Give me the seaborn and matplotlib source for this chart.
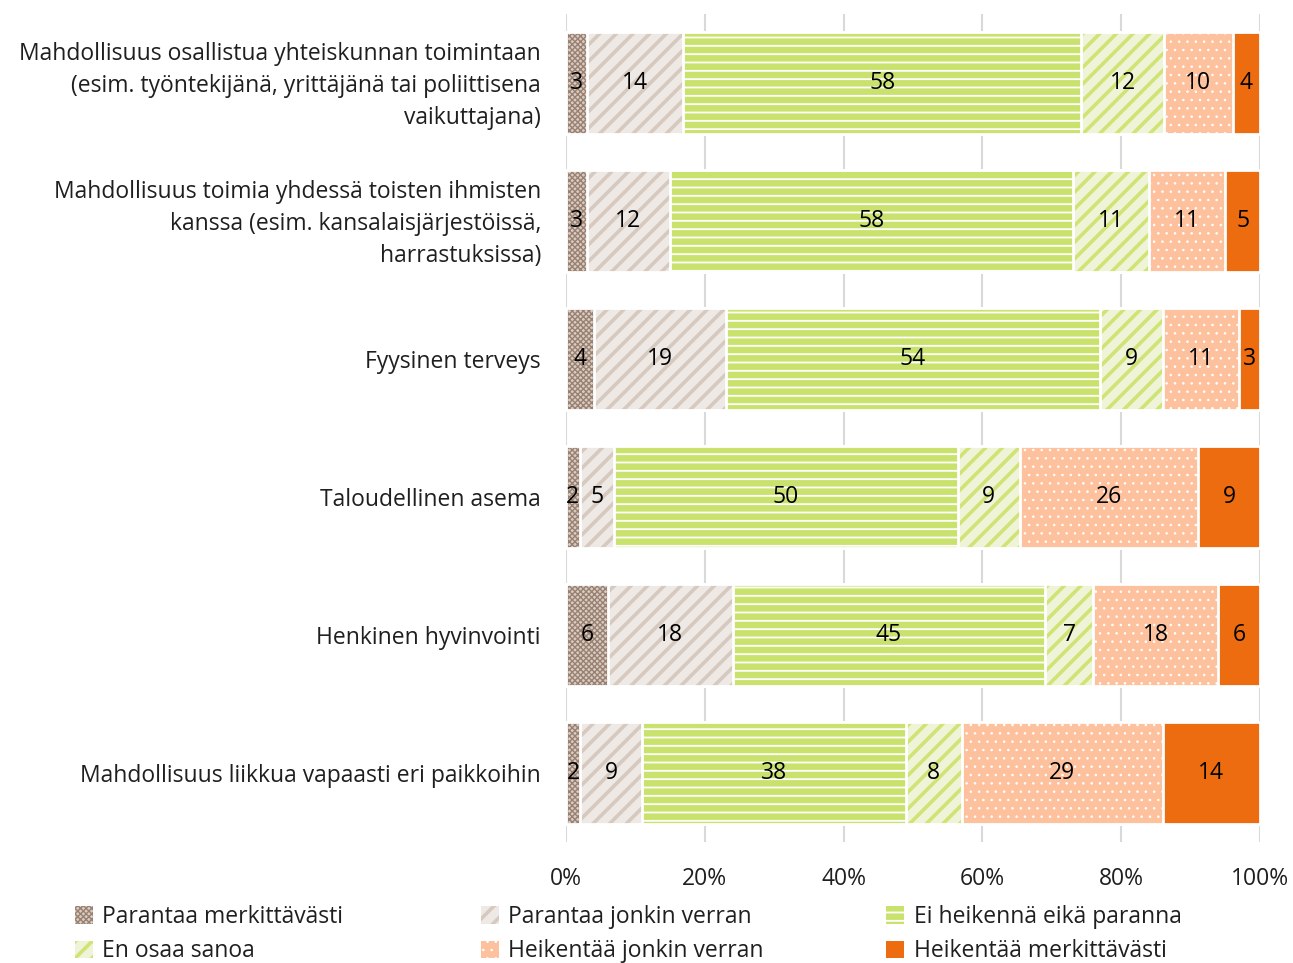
import matplotlib
matplotlib.use('Agg')
import matplotlib.pyplot as plt
import matplotlib.patches as mpatches
import matplotlib.transforms as mtransforms
from matplotlib.colors import to_rgba
import numpy as np
import pandas as pd
import seaborn as sns

# Data {{{
categories = [
    'Mahdollisuus osallistua yhteiskunnan toimintaan\n(esim. työntekijänä, yrittäjänä tai poliittisena\nvaikuttajana)',
    'Mahdollisuus toimia yhdessä toisten ihmisten\nkanssa (esim. kansalaisjärjestöissä,\nharrastuksissa)',
    'Fyysinen terveys',
    'Taloudellinen asema',
    'Henkinen hyvinvointi',
    'Mahdollisuus liikkua vapaasti eri paikkoihin',
]
series = ['Parantaa merkittävästi', 'Parantaa jonkin verran',
          'Ei heikennä eikä paranna', 'En osaa sanoa',
          'Heikentää jonkin verran', 'Heikentää merkittävästi']

parantaa_merkittavasti = [3, 3, 4, 2, 6, 2]
parantaa_jonkin = [14, 12, 19, 5, 18, 9]
ei_heikenna = [58, 58, 54, 50, 45, 38]
en_osaa = [12, 11, 9, 9, 7, 8]
heikentaa_jonkin = [10, 11, 11, 26, 18, 29]
heikentaa_merkittavasti = [4, 5, 3, 9, 6, 14]

xticks = [0, 20, 40, 60, 80, 100]
xticklabels = ['0%', '20%', '40%', '60%', '80%', '100%']
# }}}

# Styles: face, hatch, hatch colour, hatch width
styles = [
    ('#D8CDC4', 'xxxxxx', '#9A8070', 1.0),
    ('#EEE9E4', '//', '#D5C9C0', 2.6),
    ('#C9E26E', '--', '#FFFFFF', 1.3),
    ('#EFF4D8', '//', '#CFE475', 2.6),
    ('#FDC19D', '..', '#FFFFFF', 0.6),
    ('#EC6C0F', None, None, 1.0),
]

values = np.array([parantaa_merkittavasti, parantaa_jonkin, ei_heikenna,
                   en_osaa, heikentaa_jonkin, heikentaa_merkittavasti]).T
shares = values / values.sum(axis=1, keepdims=True) * 100
cum = shares.cumsum(axis=1)

df = pd.DataFrame(cum, columns=series)
df['cat'] = categories

sns.set_style('white')
plt.rcParams['font.family'] = ['Open Sans', 'DejaVu Sans']
plt.rcParams['hatch.linewidth'] = 2.0

txt_color = '#1F1F1F'
fs = 16.5

fig = plt.figure(figsize=(12.93, 9.63), dpi=100)
ax = fig.add_axes([566 / 1293, 1 - 842 / 963, (1260 - 566) / 1293, (842 - 14) / 963])


def style_patch(p, hatch_color, hatch_lw):
    if hatch_color is not None:
        p._hatch_color = to_rgba(hatch_color)
    if hasattr(p, 'set_hatch_linewidth'):
        p.set_hatch_linewidth(hatch_lw)


# Stacked bars: draw cumulative totals, widest first
for k in reversed(range(len(series))):
    face, hatch, hc, hlw = styles[k]
    n0 = len(ax.patches)
    sns.barplot(data=df, x=series[k], y='cat', order=categories, color=face,
                saturation=1, width=0.74, edgecolor='white', linewidth=2,
                hatch=hatch, ax=ax)
    for p in ax.patches[n0:]:
        style_patch(p, hc, hlw)

# Value labels
for i in range(len(categories)):
    for k in range(len(series)):
        ax.text(cum[i, k] - shares[i, k] / 2, i, str(values[i, k]),
                ha='center', va='center', fontsize=fs, color='black')

ax.set_xlim(0, 100)
ax.set_xticks(xticks)
ax.set_xticklabels(xticklabels)
ax.set_xlabel('')
ax.set_ylabel('')
ax.xaxis.grid(True, color='#D9D9D9', linewidth=1.5)
ax.set_axisbelow(True)
for s in ax.spines.values():
    s.set_visible(False)
ax.tick_params(axis='x', length=0, pad=18, labelsize=fs, labelcolor=txt_color)
ax.tick_params(axis='y', length=0, pad=18, labelsize=fs, labelcolor=txt_color)
shift_up = mtransforms.ScaledTranslation(0, 4 / 100, fig.dpi_scale_trans)
for lbl in ax.get_yticklabels():
    lbl.set_linespacing(1.45)
    if '\n' in lbl.get_text():
        lbl.set_transform(lbl.get_transform() + shift_up)

# Legend, three columns of two entries
handles = []
for face, hatch, hc, hlw in styles:
    h = mpatches.Patch(facecolor=face, edgecolor='white', linewidth=0, hatch=hatch)
    handles.append(h)

col_x = [75, 481, 886]
for c in range(3):
    idx = [c, c + 3]
    leg = fig.legend([handles[j] for j in idx], [series[j] for j in idx],
                     loc='upper left', bbox_to_anchor=(col_x[c] / 1293, 1 - 905 / 963),
                     frameon=False, fontsize=fs, handlelength=0.8, handleheight=0.8,
                     handletextpad=0.4, labelspacing=0.45, borderpad=0, borderaxespad=0)
    for t in leg.get_texts():
        t.set_color(txt_color)
    for p, j in zip(leg.legend_handles, idx):
        p.set_linewidth(0)
        style_patch(p, styles[j][2], styles[j][3])

fig.savefig('out.png', dpi=100)
